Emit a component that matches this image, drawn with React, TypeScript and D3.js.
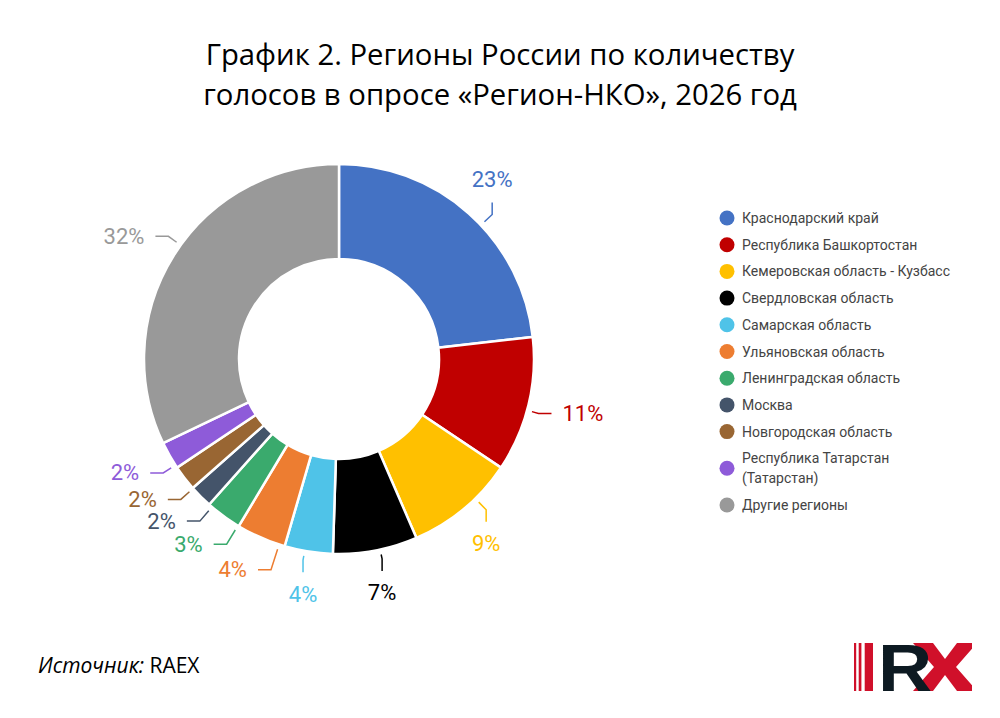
import React from 'react';
import * as d3 from 'd3';

const regions = [
    'Краснодарский край',
    'Республика Башкортостан',
    'Кемеровская область - Кузбасс',
    'Свердловская область',
    'Самарская область',
    'Ульяновская область',
    'Ленинградская область',
    'Москва',
    'Новгородская область',
    'Республика Татарстан (Татарстан)',
    'Другие регионы',
];
const shares = [23.2, 11.2, 9.1, 7.0, 4.0, 4.1, 3.0, 1.9, 2.1, 2.3, 32.1];
const shareLabels = ['23%', '11%', '9%', '7%', '4%', '4%', '3%', '2%', '2%', '2%', '32%'];
const colors = [
    '#4472c4', '#c00000', '#ffc000', '#000000', '#4fc3e8', '#ed7d31',
    '#3aaa6d', '#44546a', '#996633', '#8e5bd9', '#999999',
];

const titleLines = ['График 2. Регионы России по количеству', 'голосов в опросе «Регион-НКО», 2026 год'];

interface Slice {
    name: string;
    value: number;
    label: string;
    color: string;
}

const data: Slice[] = regions.map((name, i) => ({
    name,
    value: shares[i],
    label: shareLabels[i],
    color: colors[i],
}));

const width = 1000;
const height = 718;
const cx = 339;
const cy = 359;
const outerR = 195;
const innerR = 100;
const labelR = 230; // radius of the label's near edge
const labelFs = 22;

// wrap long legend names at the last space
const wrap = (s: string): string[] => {
    if (s.length <= 30) return [s];
    const k = s.lastIndexOf(' ');
    return [s.slice(0, k), s.slice(k + 1)];
};

const polar = (a: number, r: number): [number, number] => [cx + r * Math.sin(a), cy - r * Math.cos(a)];

const App: React.FC = () => {
    const pie = d3.pie<Slice>().sort(null).value(d => d.value);
    const arcs = pie(data);
    const arc = d3.arc<d3.PieArcDatum<Slice>>().innerRadius(innerR).outerRadius(outerR);

    // legend rows
    let ly = 218;
    const legendRows = data.map(d => {
        const lines = wrap(d.name);
        const top = ly;
        const cyRow = top + (lines.length - 1) * 10;
        ly = top + (lines.length - 1) * 20 + 26.7;
        return { d, lines, top, cyRow };
    });

    return (
        <svg width={width} height={height} style={{ position: 'absolute', left: 0, top: 0, background: '#fff' }}>
            <rect width={width} height={height} fill="#fff" />
            {titleLines.map((t, i) => (
                <text key={i} x={500} y={65 + i * 40} textAnchor="middle"
                    fontFamily="'Open Sans', sans-serif" fontSize={29.3} fill="#000">{t}</text>
            ))}

            <g transform={`translate(${cx},${cy})`}>
                {arcs.map((a, i) => (
                    <path key={i} d={arc(a) || ''} fill={a.data.color} stroke="#fff" strokeWidth={2.5} />
                ))}
            </g>

            {arcs.map((a, i) => {
                const mid = (a.startAngle + a.endAngle) / 2;
                const deg = (mid * 180) / Math.PI;
                const side = deg <= 50 || deg >= 330 ? 'up' : deg < 130 ? 'right' : deg <= 200 ? 'down' : 'left';
                const A = polar(mid, labelR);
                let E: [number, number];
                let B: [number, number];
                let tx = A[0];
                let ty = A[1];
                let anchor = 'middle';
                if (side === 'up') {
                    ty = A[1] - 8;
                    E = [A[0], A[1] + 15];
                    B = [A[0], A[1] + 27];
                } else if (side === 'down') {
                    ty = A[1] + 8;
                    E = [A[0], A[1] - 14];
                    B = [A[0], A[1] - 26];
                } else if (side === 'right') {
                    anchor = 'start';
                    E = [A[0] - 11, A[1]];
                    B = [A[0] - 24, A[1]];
                } else {
                    anchor = 'end';
                    E = [A[0] + 11, A[1]];
                    B = [A[0] + 24, A[1]];
                }
                const bx = B[0] - cx;
                const by = B[1] - cy;
                const pts: [number, number][] = [B, E];
                if (Math.hypot(bx, by) > outerR + 5) {
                    pts.unshift(polar(Math.atan2(bx, -by), outerR + 5));
                }
                return (
                    <g key={i}>
                        <polyline points={pts.map(p => p.join(',')).join(' ')}
                            fill="none" stroke={a.data.color} strokeWidth={1.5} />
                        <text x={tx} y={ty} textAnchor={anchor} dominantBaseline="central"
                            fontFamily="Roboto, sans-serif" fontSize={labelFs} fill={a.data.color}>{a.data.label}</text>
                    </g>
                );
            })}

            <g>
                {legendRows.map((r, i) => (
                    <g key={i}>
                        <circle cx={727} cy={r.cyRow} r={7.5} fill={r.d.color} />
                        {r.lines.map((l, j) => (
                            <text key={j} x={742} y={r.top + j * 20} dominantBaseline="central"
                                fontFamily="Roboto, sans-serif" fontSize={14} fill="#444">{l}</text>
                        ))}
                    </g>
                ))}
            </g>

            <text x={38} y={673} fontFamily="'Open Sans', sans-serif" fontSize={21} fill="#000">
                <tspan fontStyle="italic">Источник:</tspan> RAEX
            </text>

            {/* RX logo */}
            <defs>
                <clipPath id="logoClip">
                    <rect x={853} y={643} width={119} height={48} />
                </clipPath>
            </defs>
            <g clipPath="url(#logoClip)">
                <rect x={854} y={643} width={2.2} height={48} fill="#d0102a" />
                <rect x={858.7} y={643} width={2.7} height={48} fill="#d0102a" />
                <rect x={864.7} y={643} width={8.3} height={48} fill="#d0102a" />
                <polygon points="913,643 933,643 945,659 957,643 977,643 956,667 977,691 957,691 945,675 933,691 913,691 934,667"
                    fill="#d0102a" />
                <text x={0} y={0} transform="translate(878,691) scale(1.12,1)" fontFamily="'Liberation Sans', Arial, sans-serif"
                    fontWeight="bold" fontSize={67} fill="#0d1a22">R</text>
                <polygon points="973,656 963,667 973,679" fill="#fff" />
            </g>
        </svg>
    );
};

export default App;
